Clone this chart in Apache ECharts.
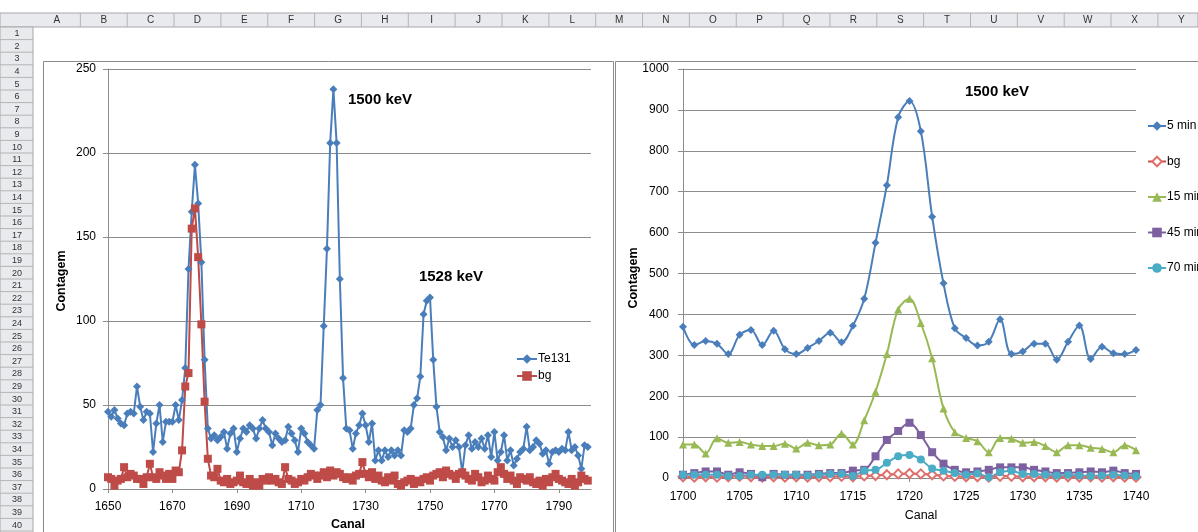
<!DOCTYPE html>
<html>
<head>
<meta charset="utf-8">
<script src="https://cdn.jsdelivr.net/npm/echarts@6/dist/echarts.min.js"></script>
<style>
html,body{margin:0;padding:0;background:#fff;}
#c{width:1198px;height:532px;}
</style>
</head>
<body>
<div id="c"></div>
<script>
// ---------- Left chart (Te131 vs bg) ----------
const channelsLeft = [
 '1650','1651','1652','1653','1654','1655','1656','1657','1658','1659',
 '1660','1661','1662','1663','1664','1665','1666','1667','1668','1669',
 '1670','1671','1672','1673','1674','1675','1676','1677','1678','1679',
 '1680','1681','1682','1683','1684','1685','1686','1687','1688','1689',
 '1690','1691','1692','1693','1694','1695','1696','1697','1698','1699',
 '1700','1701','1702','1703','1704','1705','1706','1707','1708','1709',
 '1710','1711','1712','1713','1714','1715','1716','1717','1718','1719',
 '1720','1721','1722','1723','1724','1725','1726','1727','1728','1729',
 '1730','1731','1732','1733','1734','1735','1736','1737','1738','1739',
 '1740','1741','1742','1743','1744','1745','1746','1747','1748','1749',
 '1750','1751','1752','1753','1754','1755','1756','1757','1758','1759',
 '1760','1761','1762','1763','1764','1765','1766','1767','1768','1769',
 '1770','1771','1772','1773','1774','1775','1776','1777','1778','1779',
 '1780','1781','1782','1783','1784','1785','1786','1787','1788','1789',
 '1790','1791','1792','1793','1794','1795','1796','1797','1798','1799',
 '1800'
];
const te131 = [
 46,43,47,42,39,38,45,46,45,61,
 49,41,46,45,22,39,50,28,40,40,
 40,50,41,53,72,131,165,193,170,135,
 77,36,30,32,29,31,34,24,33,36,
 22,30,36,34,38,36,30,36,41,36,
 34,26,33,30,28,29,37,33,29,22,
 36,33,28,26,24,47,50,97,143,206,
 238,206,125,66,36,35,24,33,38,45,
 38,28,39,17,23,17,23,19,23,20,
 23,20,35,34,36,50,54,67,104,112,
 114,77,49,34,31,23,30,25,29,25,
 10,26,32,24,28,25,30,24,32,19,
 34,17,22,32,17,23,14,18,22,24,
 37,23,25,29,27,21,23,15,22,23,
 22,24,23,34,23,25,20,12,26,25
];
const bgLeft = [
 7,6,2,5,6,13,7,9,8,6,
 6,3,7,15,7,6,10,8,6,9,
 6,11,10,23,61,69,155,167,138,98,
 52,18,8,7,12,5,4,6,3,4,
 5,8,4,3,6,2,4,2,6,5,
 7,5,6,4,3,13,6,5,3,4,
 6,5,7,9,8,6,8,10,7,11,
 8,10,9,7,6,7,5,8,9,16,
 9,7,10,6,8,5,4,7,5,8,
 3,2,4,5,6,3,5,4,6,7,
 5,8,9,10,7,11,9,8,6,9,
 10,8,6,5,9,7,4,5,8,6,
 5,10,13,9,6,8,5,3,7,6,
 5,7,4,3,5,2,6,4,7,9,
 6,5,4,3,6,2,4,8,6,5
];

// ---------- Right chart (decay series) ----------
const channelsRight = [
 '1700','1701','1702','1703','1704','1705','1706','1707','1708','1709',
 '1710','1711','1712','1713','1714','1715','1716','1717','1718','1719',
 '1720','1721','1722','1723','1724','1725','1726','1727','1728','1729',
 '1730','1731','1732','1733','1734','1735','1736','1737','1738','1739',
 '1740'
];
const min5 = [370,325,335,328,303,350,362,325,360,315,303,318,335,355,332,372,438,575,716,882,922,848,639,476,366,342,324,333,388,303,309,328,328,289,333,373,291,321,305,303,313];
const bgRight = [3,2,3,2,3,4,3,2,3,2,3,2,3,3,4,3,5,6,8,10,11,10,8,5,4,3,3,2,4,4,3,3,3,2,3,2,3,2,3,2,2];
const min15 = [82,82,60,97,86,88,82,78,78,84,72,86,80,82,109,82,141,211,303,412,438,379,293,170,112,98,90,63,98,96,86,88,78,63,80,80,74,71,63,80,68];
const min45 = [8,12,16,16,8,14,10,2,10,8,8,8,10,12,12,18,20,53,93,115,135,105,63,35,20,14,16,20,26,26,26,20,16,12,12,14,16,14,18,12,10];
const min70 = [8,8,8,8,5,5,8,8,8,8,8,6,8,10,10,5,18,20,37,53,56,45,23,18,12,8,11,2,14,18,10,10,8,6,8,6,5,6,8,6,5];

const colLetters = ['A','B','C','D','E','F','G','H','I','J','K','L','M','N','O','P','Q','R','S','T','U','V','W','X','Y'];

const FONT = 'Liberation Sans, Arial, sans-serif';
const GRID_GRAY = '#8c8c8c';

// ---------- spreadsheet decoration ----------
const deco = [];
deco.push({type:'rect', z:0, shape:{x:0,y:13,width:1198,height:14}, style:{fill:'#e8eaed', stroke:'#a8a8a8', lineWidth:1}});
deco.push({type:'rect', z:0, shape:{x:0,y:27,width:33,height:510}, style:{fill:'#e8eaed', stroke:'#a8a8a8', lineWidth:1}});
const colW = 46.85;
for (let i = 0; i < colLetters.length; i++) {
  const x0 = 33.5 + i * colW;
  deco.push({type:'line', z:0, shape:{x1:x0+colW, y1:13, x2:x0+colW, y2:27}, style:{stroke:'#b4b4b4', lineWidth:1}});
  deco.push({type:'text', z:1, x:x0 + colW/2, y:20.5, style:{text:colLetters[i], font:'10px ' + FONT, fill:'#333', align:'center', verticalAlign:'middle'}});
}
const rowH = 12.6;
for (let r = 1; r <= 40; r++) {
  const y0 = 27 + (r-1) * rowH;
  deco.push({type:'line', z:0, shape:{x1:0, y1:y0+rowH, x2:33, y2:y0+rowH}, style:{stroke:'#b4b4b4', lineWidth:1}});
  deco.push({type:'text', z:1, x:17, y:y0 + rowH/2 + 0.5, style:{text:String(r), font:'9px ' + FONT, fill:'#333', align:'center', verticalAlign:'middle'}});
}
// chart frames
deco.push({type:'rect', z:0, shape:{x:43.5,y:61.5,width:570,height:500}, style:{fill:'#fff', stroke:'#8a8a8a', lineWidth:1}});
deco.push({type:'rect', z:0, shape:{x:615.5,y:61.5,width:600,height:500}, style:{fill:'#fff', stroke:'#8a8a8a', lineWidth:1}});
// titles and annotations
function txt(x, y, s, size, bold, rot) {
  return {type:'text', z:10, x:x, y:y, rotation: rot || 0,
    style:{text:s, font:(bold ? 'bold ' : '') + size + 'px ' + FONT, fill:'#000', align:'center', verticalAlign:'middle'}};
}
deco.push(txt(62, 281, 'Contagem', 12.5, true, Math.PI/2));
deco.push(txt(348, 525, 'Canal', 12.5, true));
deco.push(txt(380, 100, '1500 keV', 15, true));
deco.push(txt(451, 277, '1528 keV', 15, true));
deco.push(txt(634, 278, 'Contagem', 12.5, true, Math.PI/2));
deco.push(txt(921, 516, 'Canal', 12.5, false));
deco.push(txt(997, 92, '1500 keV', 15, true));

const axisLabelStyle = {fontFamily: FONT, fontSize: 12, color: '#000'};
const plain = v => String(v);

const chart = echarts.init(document.getElementById('c'), null, {renderer:'canvas'});
chart.setOption({
  animation: false,
  backgroundColor: '#fff',
  graphic: deco,
  legend: [
    {
      left: 511, top: 348, orient: 'vertical', itemGap: 5, itemWidth: 20, itemHeight: 12,
      textStyle: {fontFamily: FONT, fontSize: 12, color: '#000', padding:[0,0,0,-4]},
      data: ['Te131', 'bg']
    },
    {
      left: 1142, top: 115, orient: 'vertical', itemGap: 23.5, itemWidth: 18, itemHeight: 12,
      textStyle: {fontFamily: FONT, fontSize: 12, color: '#000', padding:[0,0,0,-4]},
      data: ['5 min', 'bg ', '15 min', '45 min', '70 min']
    }
  ],
  grid: [
    {left: 108, top: 69, width: 483, height: 420, containLabel: false},
    {left: 683, top: 69, width: 453, height: 409, containLabel: false}
  ],
  xAxis: [
    {
      type: 'category', gridIndex: 0, data: channelsLeft, boundaryGap: false,
      axisLine: {lineStyle: {color: GRID_GRAY, width: 1}},
      axisTick: {show: true, interval: 19, length: 4, lineStyle: {color: GRID_GRAY}},
      axisLabel: Object.assign({interval: 19, margin: 12}, axisLabelStyle),
      splitLine: {show: false}
    },
    {
      type: 'category', gridIndex: 1, data: channelsRight, boundaryGap: false,
      axisLine: {lineStyle: {color: GRID_GRAY, width: 1}},
      axisTick: {show: true, interval: 4, length: 4, lineStyle: {color: GRID_GRAY}},
      axisLabel: Object.assign({interval: 4, margin: 13}, axisLabelStyle),
      splitLine: {show: false}
    }
  ],
  yAxis: [
    {
      type: 'value', gridIndex: 0, min: 0, max: 250, interval: 50,
      axisLine: {show: true, lineStyle: {color: GRID_GRAY, width: 1}},
      axisTick: {show: true, length: 5, lineStyle: {color: GRID_GRAY}},
      axisLabel: Object.assign({margin: 12, formatter: plain}, axisLabelStyle),
      splitLine: {show: true, lineStyle: {color: GRID_GRAY, width: 1}}
    },
    {
      type: 'value', gridIndex: 1, min: 0, max: 1000, interval: 100,
      axisLine: {show: true, lineStyle: {color: GRID_GRAY, width: 1}},
      axisTick: {show: true, length: 5, lineStyle: {color: GRID_GRAY}},
      axisLabel: Object.assign({margin: 14, formatter: plain}, axisLabelStyle),
      splitLine: {show: true, lineStyle: {color: GRID_GRAY, width: 1}}
    }
  ],
  series: [
    {
      name: 'Te131', type: 'line', xAxisIndex: 0, yAxisIndex: 0, data: te131, showAllSymbol: true,
      symbol: 'diamond', symbolSize: 8, color: '#4a7ebb',
      lineStyle: {width: 2, color: '#4a7ebb'}, itemStyle: {color: '#4a7ebb'}
    },
    {
      name: 'bg', type: 'line', xAxisIndex: 0, yAxisIndex: 0, data: bgLeft, showAllSymbol: true,
      symbol: 'rect', symbolSize: 8, color: '#be4b48',
      lineStyle: {width: 2, color: '#be4b48'}, itemStyle: {color: '#be4b48'}
    },
    {
      name: '5 min', type: 'line', xAxisIndex: 1, yAxisIndex: 1, data: min5, smooth: 0.35, showAllSymbol: true,
      symbol: 'diamond', symbolSize: 8, color: '#4a7ebb',
      lineStyle: {width: 2, color: '#4a7ebb'}, itemStyle: {color: '#4a7ebb'}
    },
    {
      name: 'bg ', type: 'line', xAxisIndex: 1, yAxisIndex: 1, data: bgRight, smooth: 0.35, showAllSymbol: true,
      symbol: 'emptyDiamond', symbolSize: 9, color: '#e0706d',
      lineStyle: {width: 2, color: '#d24a47'}, itemStyle: {color: '#e0706d', borderColor: '#e0706d'}
    },
    {
      name: '15 min', type: 'line', xAxisIndex: 1, yAxisIndex: 1, data: min15, smooth: 0.35, showAllSymbol: true,
      symbol: 'triangle', symbolSize: 8, color: '#98b954',
      lineStyle: {width: 2, color: '#98b954'}, itemStyle: {color: '#98b954'}
    },
    {
      name: '45 min', type: 'line', xAxisIndex: 1, yAxisIndex: 1, data: min45, smooth: 0.35, showAllSymbol: true,
      symbol: 'rect', symbolSize: 8, color: '#7d60a0',
      lineStyle: {width: 2, color: '#7d60a0'}, itemStyle: {color: '#7d60a0'}
    },
    {
      name: '70 min', type: 'line', xAxisIndex: 1, yAxisIndex: 1, data: min70, smooth: 0.35, showAllSymbol: true,
      symbol: 'circle', symbolSize: 8, color: '#4bacc6',
      lineStyle: {width: 2, color: '#4bacc6'}, itemStyle: {color: '#4bacc6'}
    }
  ]
});
</script>
</body>
</html>
